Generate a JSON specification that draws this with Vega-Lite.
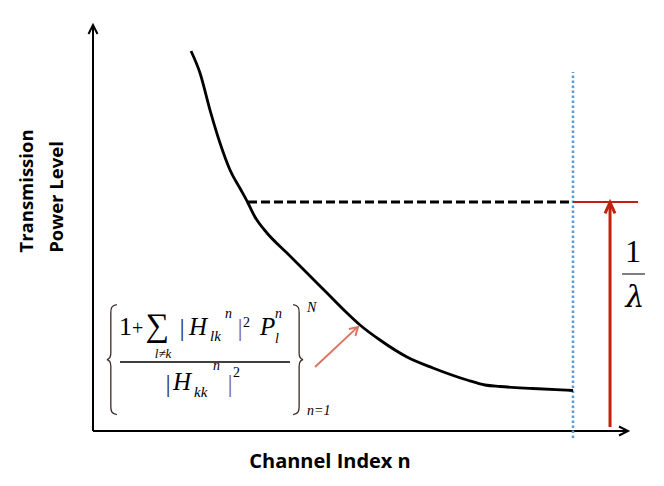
{
"$schema": "https://vega.github.io/schema/vega-lite/v6.json",
"width": 664, "height": 486, "autosize": {"type": "none"}, "padding": 0,
"background": "white",
"config": {"view": {"stroke": null}},
"datasets": {
 "curve": [
  {"channel": 18.32, "power": 93.60}, {"channel": 20.00, "power": 88.18}, {"channel": 21.87, "power": 79.06},
  {"channel": 23.74, "power": 70.94}, {"channel": 25.61, "power": 64.29}, {"channel": 27.66, "power": 59.36},
  {"channel": 28.97, "power": 56.16}, {"channel": 30.28, "power": 52.71}, {"channel": 32.52, "power": 48.77},
  {"channel": 36.26, "power": 43.84}, {"channel": 40.00, "power": 38.92}, {"channel": 43.74, "power": 33.99},
  {"channel": 47.48, "power": 29.06}, {"channel": 49.91, "power": 26.11}, {"channel": 53.64, "power": 22.41},
  {"channel": 58.69, "power": 18.23}, {"channel": 63.55, "power": 15.52}, {"channel": 69.91, "power": 12.56},
  {"channel": 73.27, "power": 11.33}, {"channel": 76.07, "power": 10.96}, {"channel": 82.24, "power": 10.47},
  {"channel": 89.72, "power": 9.98}
 ],
 "axes": [
  {"channel": 0, "power": 0, "channel2": 0, "power2": 99.5},
  {"channel": 0, "power": 0, "channel2": 99.6, "power2": 0}
 ],
 "yHead": [{"channel": 0, "power": 100}],
 "xHead": [{"channel": 100, "power": 0}],
 "waterLevel": [{"channel": 28.97, "power": 56.40, "channel2": 89.72, "power2": 56.40}],
 "lastChannel": [{"channel": 89.72, "power": -1.72, "channel2": 89.72, "power2": 88.42}],
 "redLevel": [{"channel": 89.72, "power": 56.40, "channel2": 101.87, "power2": 56.40}],
 "redShaft": [{"channel": 96.64, "power": 0.99, "channel2": 96.64, "power2": 55.6}],
 "redHead": [{"channel": 96.64, "power": 56.3}],
 "pointer": [{"channel": 41.50, "power": 15.76, "channel2": 49.3, "power2": 25.4}],
 "pointerHead": [{"channel": 49.53, "power": 25.62}],
 "fracBar": [{"channel": 5.05, "power": 17.0, "channel2": 36.82, "power2": 17.0}],
 "lambdaBar": [{"channel": 98.88, "power": 38.67, "channel2": 103.18, "power2": 38.67}],
 "leftBrace": [{"channel": 3.64, "power": 17.6}],
 "rightBrace": [{"channel": 38.22, "power": 17.6}],
 "numOne": [{"channel": 4.86, "power": 23.65, "t": "1"}],
 "numPlus": [{"channel": 8.35, "power": 23.65, "t": "+"}],
 "sigma": [{"channel": 9.80, "power": 23.40, "t": "∑"}],
 "barsDark": [{"channel": 16.64, "power": 23.4, "t": "|"}, {"channel": 14.02, "power": 9.61, "t": "|"}],
 "barsPurple": [{"channel": 27.48, "power": 23.4, "t": "|"}, {"channel": 25.61, "power": 9.61, "t": "|"}],
 "italicBig": [{"channel": 17.94, "power": 23.65, "t": "H"}, {"channel": 31.21, "power": 23.65, "t": "P"}, {"channel": 14.95, "power": 10.10, "t": "H"}],
 "italicSub": [{"channel": 21.87, "power": 22.17, "t": "lk"}, {"channel": 18.88, "power": 8.37, "t": "kk"}],
 "italicSmall": [{"channel": 24.67, "power": 27.83, "t": "n"}, {"channel": 34.02, "power": 27.83, "t": "n"}, {"channel": 34.02, "power": 21.67, "t": "l"}, {"channel": 22.43, "power": 15.02, "t": "n"}, {"channel": 40.0, "power": 29.31, "t": "N"}, {"channel": 40.0, "power": 3.94, "t": "n=1"}],
 "uprightSmall": [{"channel": 28.04, "power": 25.62, "t": "2"}, {"channel": 26.17, "power": 13.30, "t": "2"}],
 "sumIndex": [{"channel": 13.1, "power": 17.9, "t": "l≠k"}],
 "lambdaOne": [{"channel": 100.93, "power": 41.63, "t": "1"}],
 "lambdaSym": [{"channel": 101.31, "power": 30.54, "t": "λ"}],
 "xTitle": [{"channel": 44.30, "power": -9.11, "t": "Channel Index n"}],
 "yTitle": [{"channel": -11.21, "power": 59.11, "t": "Transmission"}, {"channel": -5.61, "power": 57.64, "t": "Power Level"}]
},
"encoding": {
 "x": {"field": "channel", "type": "quantitative", "scale": {"domain": [-17.383, 106.729], "nice": false, "zero": false}, "axis": null},
 "y": {"field": "power", "type": "quantitative", "scale": {"domain": [-13.547, 106.158], "nice": false, "zero": false}, "axis": null}
},
"layer": [
 {"data": {"name": "axes"}, "mark": {"type": "rule", "color": "black", "strokeWidth": 2}, "encoding": {"x2": {"field": "channel2"}, "y2": {"field": "power2"}}},
 {"data": {"name": "yHead"}, "mark": {"type": "point", "shape": "M-0.5,1 L0,0 L0.5,1", "size": 324, "filled": false, "stroke": "black", "strokeWidth": 2, "opacity": 1, "angle": 0}},
 {"data": {"name": "xHead"}, "mark": {"type": "point", "shape": "M-0.5,1 L0,0 L0.5,1", "size": 324, "filled": false, "stroke": "black", "strokeWidth": 2, "opacity": 1, "angle": 90}},
 {"data": {"name": "lastChannel"}, "mark": {"type": "rule", "color": "#5B9BD5", "strokeWidth": 2.5, "strokeDash": [2.5, 2.5]}, "encoding": {"x2": {"field": "channel2"}, "y2": {"field": "power2"}}},
 {"data": {"name": "waterLevel"}, "mark": {"type": "rule", "color": "black", "strokeWidth": 2.8, "strokeDash": [9, 4]}, "encoding": {"x2": {"field": "channel2"}, "y2": {"field": "power2"}}},
 {"data": {"name": "curve"}, "mark": {"type": "line", "color": "black", "strokeWidth": 2.8, "interpolate": "monotone"}},
 {"data": {"name": "redLevel"}, "mark": {"type": "rule", "color": "#C0200C", "strokeWidth": 2}, "encoding": {"x2": {"field": "channel2"}, "y2": {"field": "power2"}}},
 {"data": {"name": "redShaft"}, "mark": {"type": "rule", "color": "#C0200C", "strokeWidth": 3}, "encoding": {"x2": {"field": "channel2"}, "y2": {"field": "power2"}}},
 {"data": {"name": "redHead"}, "mark": {"type": "point", "shape": "M-0.45,1 L0,0 L0.45,1", "size": 484, "filled": false, "stroke": "#C0200C", "strokeWidth": 3, "opacity": 1}},
 {"data": {"name": "lambdaBar"}, "mark": {"type": "rule", "color": "#555555", "strokeWidth": 1.5}, "encoding": {"x2": {"field": "channel2"}, "y2": {"field": "power2"}}},
 {"data": {"name": "lambdaOne"}, "mark": {"type": "text", "font": "Liberation Serif", "fontSize": 32, "align": "center", "baseline": "alphabetic", "color": "black"}, "encoding": {"text": {"field": "t"}}},
 {"data": {"name": "lambdaSym"}, "mark": {"type": "text", "font": "DejaVu Serif", "fontSize": 30, "fontStyle": "italic", "align": "center", "baseline": "alphabetic", "color": "black"}, "encoding": {"text": {"field": "t"}}},
 {"data": {"name": "pointer"}, "mark": {"type": "rule", "color": "#DD7563", "strokeWidth": 2}, "encoding": {"x2": {"field": "channel2"}, "y2": {"field": "power2"}}},
 {"data": {"name": "pointerHead"}, "mark": {"type": "point", "shape": "M-0.6,1 L0,0 L0.6,1", "size": 256, "filled": false, "stroke": "#DD7563", "strokeWidth": 2, "opacity": 1, "angle": 47}},
 {"data": {"name": "leftBrace"}, "mark": {"type": "point", "shape": "M0.08,-1 C-0.02,-0.99 -0.03,-0.93 -0.03,-0.85 L-0.03,-0.12 C-0.03,-0.04 -0.06,-0.01 -0.1,0 C-0.06,0.01 -0.03,0.04 -0.03,0.12 L-0.03,0.85 C-0.03,0.93 -0.02,0.99 0.08,1", "size": 12100, "filled": false, "stroke": "#3a2a2a", "strokeWidth": 1.3, "opacity": 1}},
 {"data": {"name": "rightBrace"}, "mark": {"type": "point", "shape": "M-0.08,-1 C0.02,-0.99 0.03,-0.93 0.03,-0.85 L0.03,-0.12 C0.03,-0.04 0.06,-0.01 0.1,0 C0.06,0.01 0.03,0.04 0.03,0.12 L0.03,0.85 C0.03,0.93 0.02,0.99 -0.08,1", "size": 12100, "filled": false, "stroke": "#3a2a2a", "strokeWidth": 1.3, "opacity": 1}},
 {"data": {"name": "fracBar"}, "mark": {"type": "rule", "color": "black", "strokeWidth": 1.3}, "encoding": {"x2": {"field": "channel2"}, "y2": {"field": "power2"}}},
 {"data": {"name": "numOne"}, "mark": {"type": "text", "font": "Liberation Serif", "fontSize": 26, "align": "left", "baseline": "alphabetic", "color": "black"}, "encoding": {"text": {"field": "t"}}},
 {"data": {"name": "numPlus"}, "mark": {"type": "text", "font": "Liberation Serif", "fontSize": 20, "align": "center", "baseline": "alphabetic", "color": "black"}, "encoding": {"text": {"field": "t"}}},
 {"data": {"name": "sigma"}, "mark": {"type": "text", "font": "Liberation Serif", "fontSize": 33, "align": "left", "baseline": "alphabetic", "color": "black"}, "encoding": {"text": {"field": "t"}}},
 {"data": {"name": "barsDark"}, "mark": {"type": "text", "font": "Liberation Serif", "fontSize": 26, "align": "center", "baseline": "alphabetic", "color": "#333333"}, "encoding": {"text": {"field": "t"}}},
 {"data": {"name": "barsPurple"}, "mark": {"type": "text", "font": "Liberation Serif", "fontSize": 26, "align": "center", "baseline": "alphabetic", "color": "#7F5F8F"}, "encoding": {"text": {"field": "t"}}},
 {"data": {"name": "italicBig"}, "mark": {"type": "text", "font": "Liberation Serif", "fontSize": 25, "fontStyle": "italic", "align": "left", "baseline": "alphabetic", "color": "black"}, "encoding": {"text": {"field": "t"}}},
 {"data": {"name": "italicSub"}, "mark": {"type": "text", "font": "Liberation Serif", "fontSize": 15, "fontStyle": "italic", "align": "left", "baseline": "alphabetic", "color": "black"}, "encoding": {"text": {"field": "t"}}},
 {"data": {"name": "italicSmall"}, "mark": {"type": "text", "font": "Liberation Serif", "fontSize": 14, "fontStyle": "italic", "align": "left", "baseline": "alphabetic", "color": "black"}, "encoding": {"text": {"field": "t"}}},
 {"data": {"name": "uprightSmall"}, "mark": {"type": "text", "font": "Liberation Serif", "fontSize": 14, "align": "left", "baseline": "alphabetic", "color": "black"}, "encoding": {"text": {"field": "t"}}},
 {"data": {"name": "sumIndex"}, "mark": {"type": "text", "font": "Liberation Serif", "fontSize": 13, "fontStyle": "italic", "align": "center", "baseline": "alphabetic", "color": "black"}, "encoding": {"text": {"field": "t"}}},
 {"data": {"name": "xTitle"}, "mark": {"type": "text", "font": "Open Sans", "fontSize": 20, "fontWeight": "bold", "align": "center", "baseline": "alphabetic", "color": "black"}, "encoding": {"text": {"field": "t"}}},
 {"data": {"name": "yTitle"}, "mark": {"type": "text", "font": "Open Sans", "fontSize": 18.5, "fontWeight": "bold", "align": "center", "baseline": "alphabetic", "color": "black", "angle": 270}, "encoding": {"text": {"field": "t"}}}
]
}
